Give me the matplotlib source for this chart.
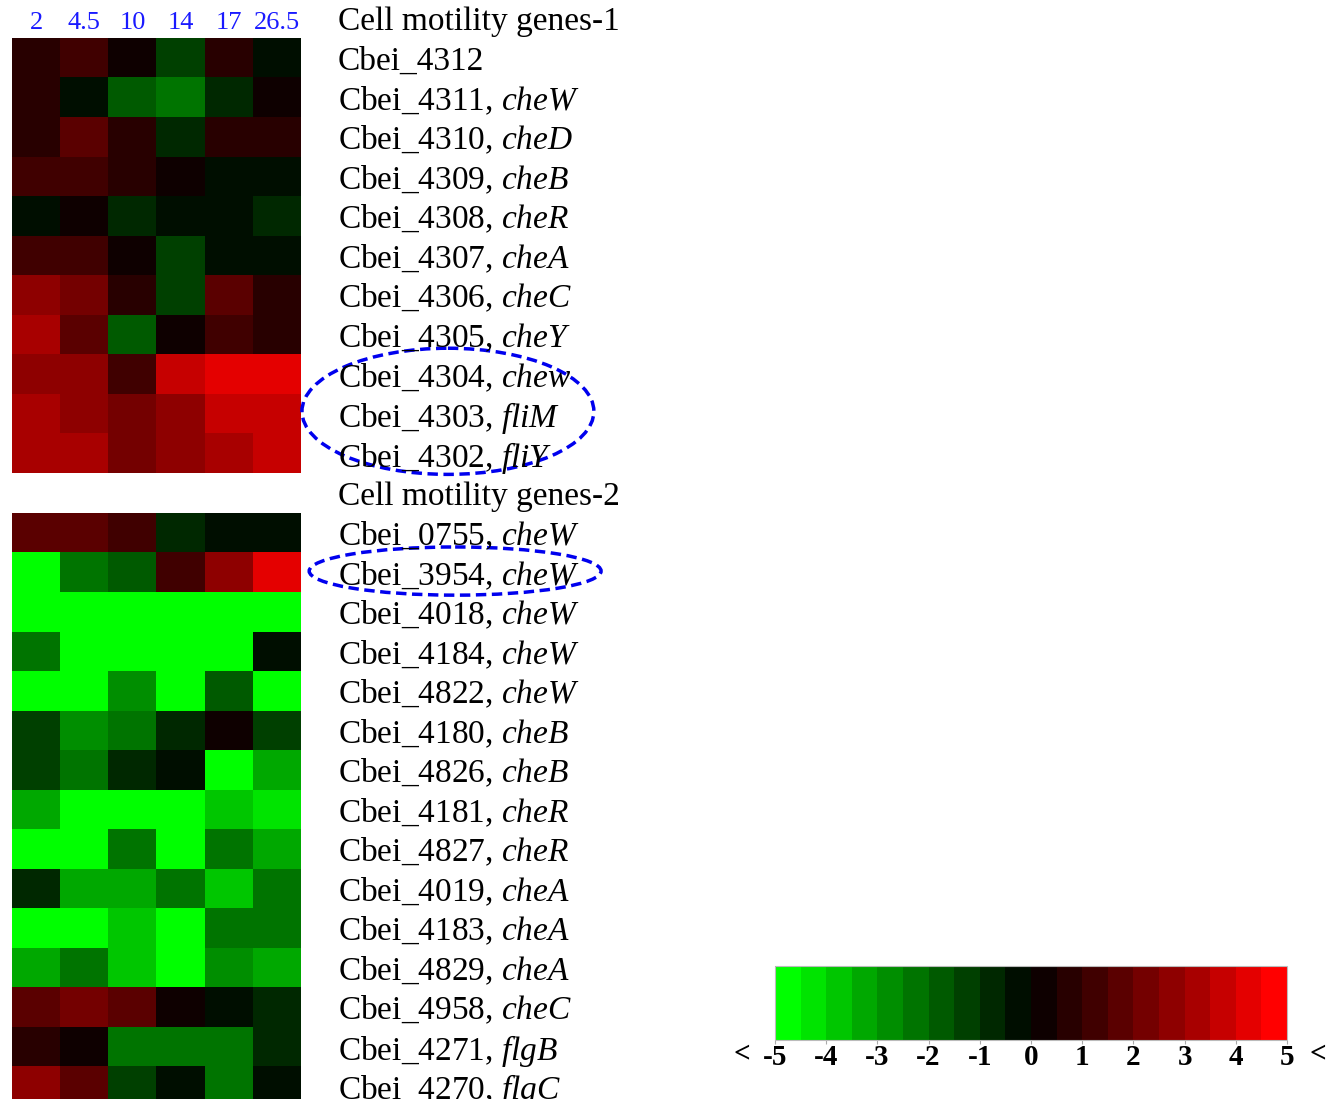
import numpy as np
import matplotlib
matplotlib.use("Agg")
import matplotlib.pyplot as plt
import matplotlib.transforms as mtransforms
from matplotlib.colors import ListedColormap, BoundaryNorm
from matplotlib.cm import ScalarMappable
from matplotlib.patches import Ellipse

plt.rcParams["font.family"] = "Liberation Serif"
plt.rcParams["mathtext.fontset"] = "custom"
plt.rcParams["mathtext.rm"] = "Liberation Serif"
plt.rcParams["mathtext.it"] = "Liberation Serif:italic"

# time points (h)
times = ["2", "4.5", "10", "14", "17", "26.5"]

ids_1 = ["Cbei_4312", "Cbei_4311", "Cbei_4310", "Cbei_4309", "Cbei_4308", "Cbei_4307",
         "Cbei_4306", "Cbei_4305", "Cbei_4304", "Cbei_4303", "Cbei_4302"]
genes_1 = ["", "cheW", "cheD", "cheB", "cheR", "cheA", "cheC", "cheY", "chew", "fliM", "fliY"]
vals_1 = [
    [0.7, 1.3, 0.2, -1.3, 0.8, -0.3],
    [0.7, -0.2, -1.8, -2.3, -0.8, 0.2],
    [0.7, 1.8, 0.8, -0.8, 0.8, 0.7],
    [1.2, 1.3, 0.8, 0.2, -0.3, -0.2],
    [-0.3, 0.2, -0.8, -0.2, -0.3, -0.7],
    [1.2, 1.3, 0.2, -1.3, -0.3, -0.2],
    [2.8, 2.3, 0.8, -1.2, 1.7, 0.7],
    [3.3, 1.7, -1.8, 0.2, 1.3, 0.7],
    [2.7, 2.8, 1.2, 3.8, 4.3, 4.2],
    [3.2, 2.7, 2.3, 2.8, 3.7, 3.8],
    [3.3, 3.2, 2.2, 2.7, 3.3, 3.8],
]

ids_2 = ["Cbei_0755", "Cbei_3954", "Cbei_4018", "Cbei_4184", "Cbei_4822", "Cbei_4180",
         "Cbei_4826", "Cbei_4181", "Cbei_4827", "Cbei_4019", "Cbei_4183", "Cbei_4829",
         "Cbei_4958", "Cbei_4271", "Cbei_4270"]
genes_2 = ["cheW", "cheW", "cheW", "cheW", "cheW", "cheB", "cheB", "cheR", "cheR",
           "cheA", "cheA", "cheA", "cheC", "flgB", "flgC"]
vals_2 = [
    [1.8, 1.7, 1.3, -0.8, -0.3, -0.2],
    [-5.4, -2.3, -1.8, 1.2, 2.8, 4.3],
    [-5.6, -5.3, -5.2, -5.5, -5.1, -5.4],
    [-2.2, -5.2, -5.5, -5.3, -5.1, -0.3],
    [-5.3, -5.1, -2.7, -5.4, -1.8, -5.2],
    [-1.3, -2.8, -2.3, -0.8, 0.3, -1.2],
    [-1.2, -2.2, -0.7, -0.3, -5.3, -3.2],
    [-3.3, -5.2, -5.4, -5.1, -3.8, -4.3],
    [-5.1, -5.3, -2.2, -5.5, -2.3, -3.3],
    [-0.8, -3.2, -3.3, -2.2, -3.7, -2.3],
    [-5.2, -5.4, -3.8, -5.3, -2.2, -2.3],
    [-3.3, -2.2, -3.7, -5.1, -2.8, -3.2],
    [1.7, 2.2, 1.8, 0.2, -0.3, -0.7],
    [0.8, 0.3, -2.3, -2.2, -2.3, -0.8],
    [2.8, 1.7, -1.3, -0.2, -2.2, -0.3],
]

cbar_ticks = [-5, -4, -3, -2, -1, 0, 1, 2, 3, 4, 5]

# stepped green-black-red scale, 20 bins of 0.5
lev = [14, 40, 64, 90, 116, 142, 168, 198, 228, 255]
greens = [(0, v / 255, 0) for v in lev[::-1]]
reds = [(v / 255, 0, 0) for v in lev]
cmap = ListedColormap(greens + reds)
norm = BoundaryNorm(np.linspace(-5, 5, 21), cmap.N, clip=True)


def labels(ids, genes):
    out = []
    for i, g in zip(ids, genes):
        out.append(i + (", $\\mathit{" + g + "}$" if g else ""))
    return out


W, H = 1329, 1099
fig = plt.figure(figsize=(W / 100, H / 100), dpi=100)
ax1 = fig.add_axes([12 / W, 1 - 473 / H, 289 / W, 435 / H])
ax2 = fig.add_axes([12 / W, 1 - 1105.5 / H, 289 / W, 592.5 / H])

for ax, vals, lab, title in [(ax1, vals_1, labels(ids_1, genes_1), "Cell motility genes-1"),
                             (ax2, vals_2, labels(ids_2, genes_2), "Cell motility genes-2")]:
    ax.imshow(np.array(vals), cmap=cmap, norm=norm, aspect="auto", interpolation="nearest")
    ax.yaxis.tick_right()
    ax.set_yticks(range(len(lab)))
    ax.set_yticklabels(lab)
    ax.tick_params(axis="y", length=0, pad=26.5, labelsize=24)
    for s in ax.spines.values():
        s.set_visible(False)
    tr = mtransforms.blended_transform_factory(ax.transAxes, ax.transData)
    ax.text(1 + 37 / 289, -1, title, transform=tr, fontsize=24,
            va="center_baseline", ha="left", clip_on=False)

ax1.xaxis.tick_top()
ax1.set_xticks(range(len(times)))
ax1.set_xticklabels(times, color="#1a1aff")
ax1.tick_params(axis="x", length=0, pad=3, labelsize=19)
ax2.set_xticks([])

# dashed highlight ellipses
ax1.add_patch(Ellipse((8.55, 8.94), 6.06, 3.19, fill=False, edgecolor="#0000ee",
                      lw=2.5, ls=(0, (3.0, 1.6)), clip_on=False))
ax2.add_patch(Ellipse((8.70, 0.97), 6.06, 1.22, fill=False, edgecolor="#0000ee",
                      lw=2.5, ls=(0, (3.0, 1.6)), clip_on=False))

# colour key
cax = fig.add_axes([775 / W, 1 - 1040 / H, 512 / W, 74 / H])
cb = fig.colorbar(ScalarMappable(norm=norm, cmap=cmap), cax=cax,
                  orientation="horizontal", ticks=cbar_ticks)
cb.minorticks_off()
cb.outline.set_edgecolor("#bbbbbb")
cb.outline.set_linewidth(0.8)
cax.set_xticklabels([str(t) for t in cbar_ticks], fontweight="bold")
cax.tick_params(axis="x", which="both", length=3, color="#aaaaaa", labelsize=21, pad=0)
cax.text(-0.065, -0.19, "<", transform=cax.transAxes, fontsize=21, fontweight="bold",
         ha="center", va="center")
cax.text(1.06, -0.19, "<", transform=cax.transAxes, fontsize=21, fontweight="bold",
         ha="center", va="center")

fig.savefig("out.png", dpi=100, facecolor="white")
